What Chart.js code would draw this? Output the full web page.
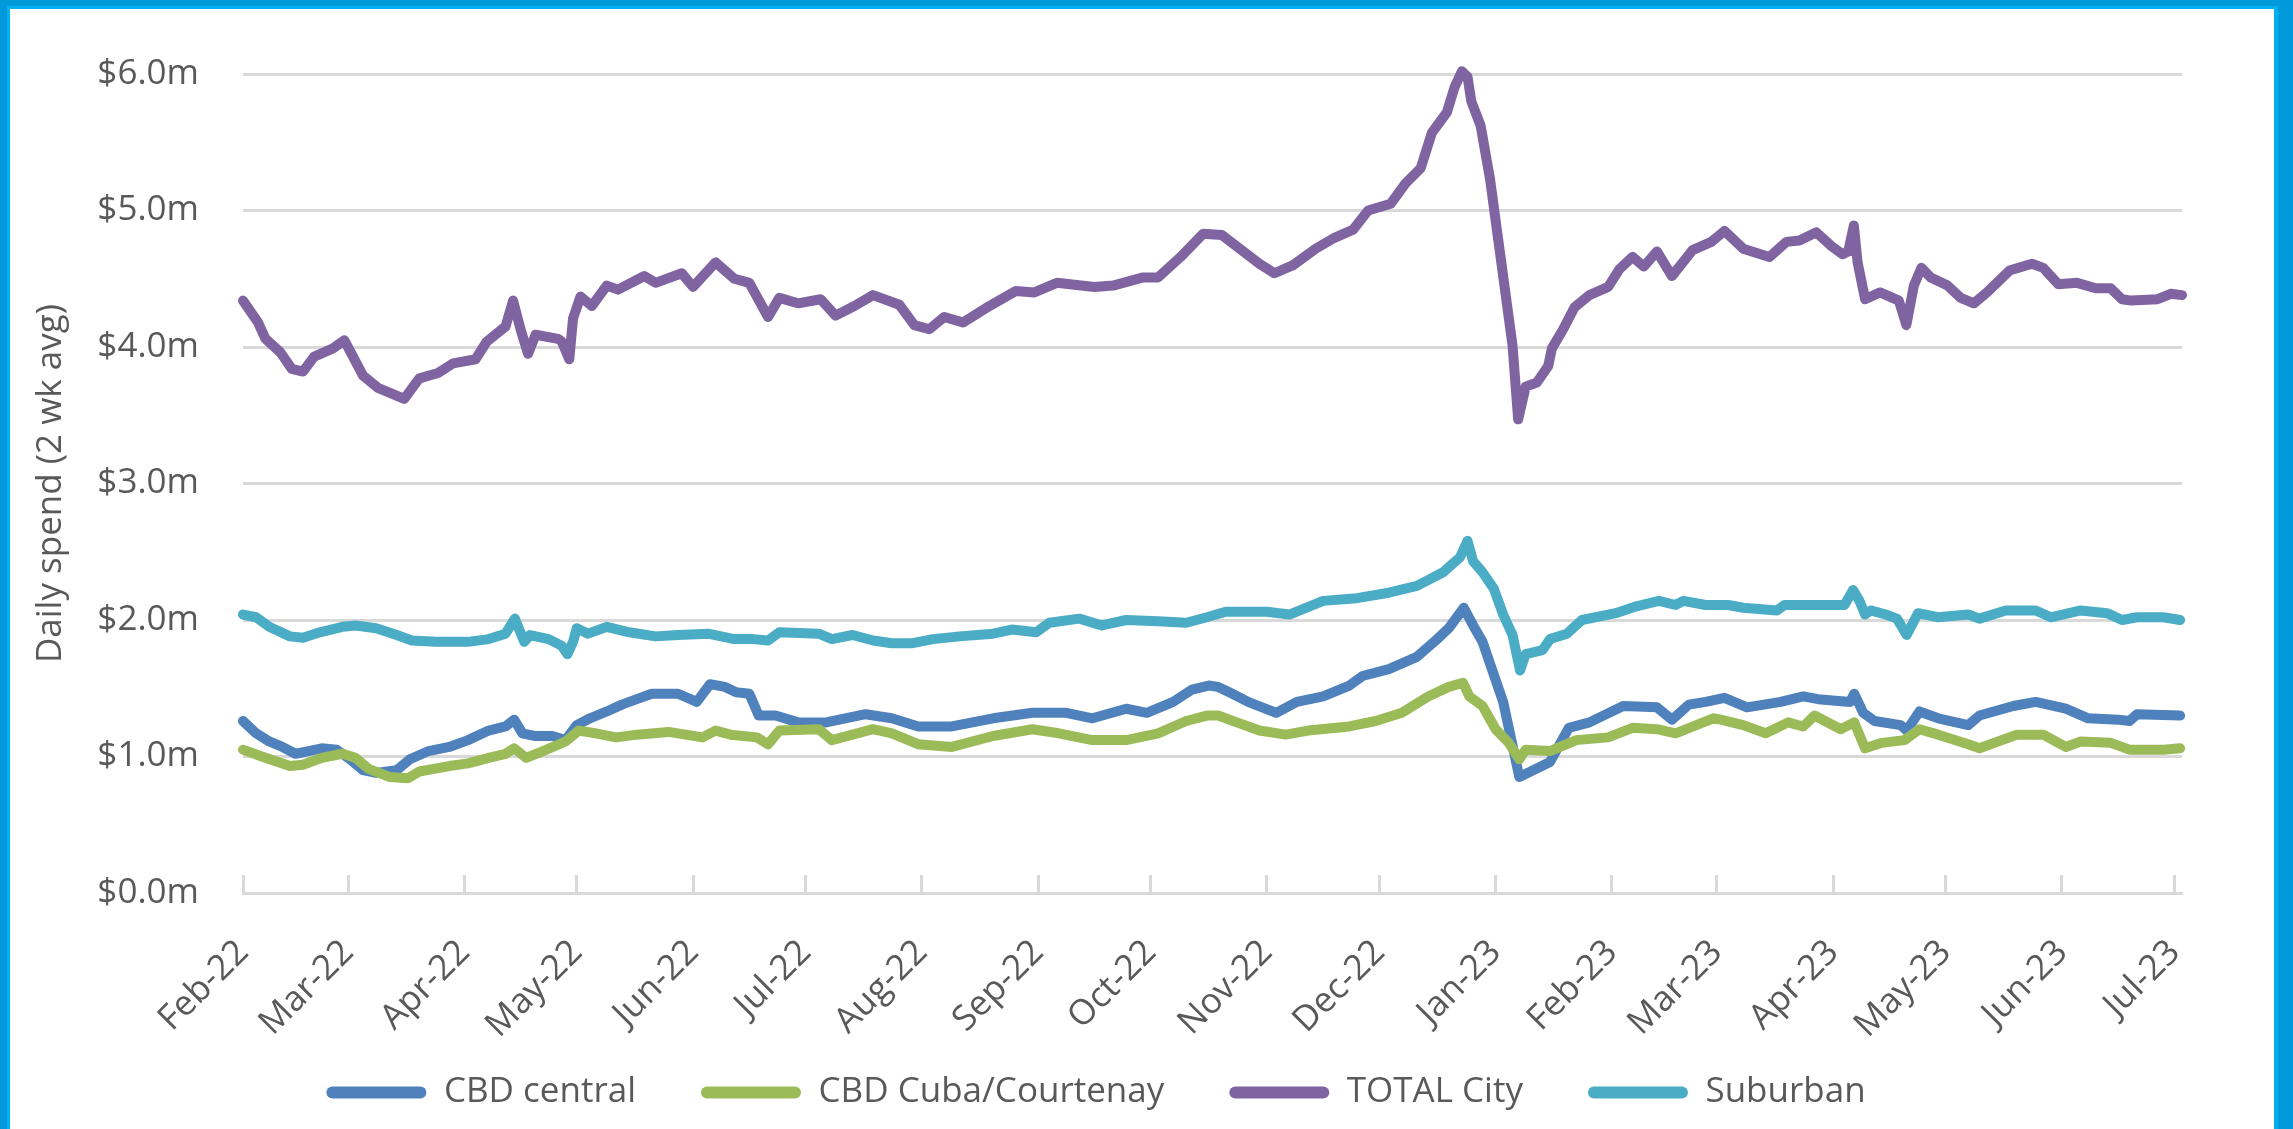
<!DOCTYPE html>
<html lang="en">
<head>
  <meta charset="UTF-8" />
  <title>Daily spend (2 wk avg)</title>
  <script src="https://cdn.jsdelivr.net/npm/chart.js"></script>
  <style>
    html, body {
      margin: 0;
      padding: 0;
      background: #ffffff;
      overflow: hidden;
    }

    .frame {
      position: absolute;
      left: 0;
      top: 0;
      width: 2293px;
      height: 1129px;
      box-sizing: border-box;
      border-style: solid;
      border-color: #0099da;
      border-width: 6px 15px 0 7px;
    }

    .frame-inner {
      width: 100%;
      height: 100%;
      box-sizing: border-box;
      border-style: solid;
      border-color: #00b0f0;
      border-width: 3px 4px 0 3px;
      background: #ffffff;
    }

    .chart-box {
      position: relative;
      width: 100%;
      height: 100%;
    }
  </style>
</head>
<body>
  <div class="frame">
    <div class="frame-inner">
      <div class="chart-box">
        <canvas id="spendChart"></canvas>
      </div>
    </div>
  </div>

  <script>
    // x values are days since 1 Feb 2022, y values are $m (2 week average)
    const seriesNames = ['CBD central', 'CBD Cuba/Courtenay', 'TOTAL City', 'Suburban'];
    const seriesColors = ['#4f81bd', '#9bbb59', '#8064a2', '#4bacc6'];

    const tickLabels = ['Feb-22', 'Mar-22', 'Apr-22', 'May-22', 'Jun-22', 'Jul-22', 'Aug-22', 'Sep-22',
      'Oct-22', 'Nov-22', 'Dec-22', 'Jan-23', 'Feb-23', 'Mar-23', 'Apr-23', 'May-23', 'Jun-23', 'Jul-23'];
    const tickDates = ['2022-02-01', '2022-03-01', '2022-04-01', '2022-05-01', '2022-06-01', '2022-07-01',
      '2022-08-01', '2022-09-01', '2022-10-01', '2022-11-01', '2022-12-01', '2023-01-01', '2023-02-01',
      '2023-03-01', '2023-04-01', '2023-05-01', '2023-06-01', '2023-07-01'];

    const centralDays = [0, 3.5, 7, 10.5, 14, 17.5, 21, 25, 28.5, 32, 35.5, 41, 44.5, 49.5, 55, 60, 65.5, 70,
      72.3, 74.5, 78, 82.5, 86, 89, 92.5, 97, 101, 105, 109, 116, 121, 124.5, 128.5, 131.5, 135, 137.5,
      142, 148, 155.5, 166, 173, 180, 189, 200, 210.5, 219.5, 226.5, 235.5, 241, 248, 253, 257.5, 260,
      263, 268, 275.5, 281, 288, 295, 298.5, 305.5, 313, 318, 321.5, 325.5, 328, 330.5, 336, 340.3, 344,
      348.5, 353.5, 359, 368, 377, 381, 385.5, 390, 395, 401, 410, 416, 420, 428.5, 429.6, 432, 435, 442,
      443.6, 447, 452, 460, 463, 472, 478, 486, 492, 500, 503, 505, 516.5];
    const centralVals = [1.26, 1.17, 1.11, 1.07, 1.02, 1.04, 1.06, 1.05, 0.98, 0.90, 0.88, 0.90, 0.98, 1.04,
      1.07, 1.12, 1.19, 1.22, 1.27, 1.17, 1.15, 1.15, 1.12, 1.23, 1.28, 1.33, 1.38, 1.42, 1.46, 1.46, 1.40,
      1.53, 1.51, 1.47, 1.46, 1.30, 1.30, 1.25, 1.25, 1.31, 1.28, 1.22, 1.22, 1.28, 1.32, 1.32, 1.28, 1.35,
      1.32, 1.40, 1.49, 1.52, 1.51, 1.47, 1.40, 1.32, 1.40, 1.44, 1.52, 1.59, 1.64, 1.73, 1.85, 1.94, 2.09,
      1.96, 1.84, 1.40, 0.85, 0.90, 0.96, 1.21, 1.25, 1.37, 1.36, 1.27, 1.38, 1.40, 1.43, 1.36, 1.40, 1.44,
      1.42, 1.40, 1.46, 1.32, 1.26, 1.23, 1.19, 1.33, 1.28, 1.23, 1.30, 1.37, 1.40, 1.35, 1.28, 1.27, 1.26,
      1.31, 1.30];

    const cubaDays = [0, 5, 12.5, 16, 21, 26.5, 30, 33.5, 39, 44, 47, 55, 60, 65.5, 70, 72.3, 75.5, 80, 86,
      89.5, 94, 99.5, 105, 113.5, 122.5, 126, 130, 137, 140, 143, 153.5, 157, 168, 173, 180, 189, 200,
      210.5, 217.5, 226.5, 235.5, 244, 251.5, 257, 260, 265, 271, 278, 284, 295, 302, 309, 316, 321.5,
      325.3, 327, 330.5, 334, 337.5, 340.3, 342, 348.5, 355.5, 364, 370.5, 377, 382, 387.5, 392, 394, 400,
      406, 412, 416, 419, 426, 429.6, 432.5, 437, 443, 447, 452, 460, 463, 473, 480, 486, 490, 498, 503,
      512, 516.5];
    const cubaVals = [1.05, 1.00, 0.93, 0.94, 0.99, 1.02, 0.99, 0.91, 0.85, 0.84, 0.89, 0.93, 0.95, 0.99,
      1.02, 1.06, 0.99, 1.04, 1.11, 1.19, 1.17, 1.14, 1.16, 1.18, 1.14, 1.19, 1.16, 1.14, 1.09, 1.19, 1.20,
      1.12, 1.20, 1.17, 1.09, 1.07, 1.15, 1.20, 1.17, 1.12, 1.12, 1.17, 1.26, 1.30, 1.30, 1.25, 1.19, 1.16,
      1.19, 1.22, 1.26, 1.32, 1.44, 1.51, 1.54, 1.44, 1.37, 1.20, 1.10, 0.98, 1.05, 1.04, 1.12, 1.14, 1.21,
      1.20, 1.17, 1.23, 1.28, 1.27, 1.23, 1.17, 1.25, 1.22, 1.30, 1.20, 1.25, 1.06, 1.10, 1.12, 1.20, 1.16,
      1.09, 1.06, 1.16, 1.16, 1.07, 1.11, 1.10, 1.05, 1.05, 1.06];

    const totalDays = [0, 4, 6, 10, 13, 16, 19, 24, 27, 32, 36, 43, 47, 52, 56, 62, 65, 70, 72, 74, 76, 78,
      84, 85, 87, 88, 90, 93, 97, 100, 107, 110, 117, 120, 126, 131, 135, 140, 143, 148, 154, 158, 163,
      168, 175, 179, 183, 187, 192, 199, 206, 211, 217, 227, 232, 240, 244, 250, 256, 261, 271, 275, 280,
      286, 291, 296, 300, 306, 310, 314, 317, 321, 323, 325, 326.5, 327.5, 330, 332.5, 335.5, 338.5, 340,
      342, 345, 348, 349, 352, 355, 359, 364, 367, 370.5, 373.5, 377, 381, 386.5, 391.5, 395, 400, 407,
      411.5, 415, 419.5, 423.5, 426.5, 428, 429.5, 430.5, 432.5, 436.5, 441.5, 443.5, 445.5, 447.5, 450,
      454.5, 458, 461.5, 465, 471, 477, 480, 484, 489, 494, 498, 501, 503.5, 510.5, 514, 517];
    const totalVals = [4.34, 4.18, 4.06, 3.96, 3.84, 3.82, 3.93, 3.99, 4.05, 3.79, 3.70, 3.62, 3.77, 3.81,
      3.88, 3.91, 4.04, 4.15, 4.34, 4.13, 3.95, 4.09, 4.06, 4.04, 3.91, 4.21, 4.37, 4.30, 4.45, 4.42, 4.52,
      4.47, 4.54, 4.44, 4.62, 4.50, 4.47, 4.22, 4.36, 4.32, 4.35, 4.23, 4.30, 4.38, 4.31, 4.16, 4.13, 4.22,
      4.18, 4.30, 4.41, 4.40, 4.47, 4.44, 4.45, 4.51, 4.51, 4.66, 4.83, 4.82, 4.61, 4.54, 4.60, 4.72, 4.80,
      4.86, 5.00, 5.05, 5.20, 5.31, 5.57, 5.72, 5.90, 6.02, 5.98, 5.80, 5.62, 5.23, 4.62, 4.01, 3.47, 3.71,
      3.74, 3.86, 3.99, 4.13, 4.29, 4.38, 4.44, 4.57, 4.66, 4.59, 4.70, 4.52, 4.71, 4.77, 4.85, 4.72, 4.66,
      4.77, 4.78, 4.84, 4.74, 4.68, 4.70, 4.89, 4.62, 4.35, 4.40, 4.34, 4.16, 4.45, 4.58, 4.51, 4.45, 4.36,
      4.32, 4.40, 4.56, 4.61, 4.58, 4.46, 4.47, 4.43, 4.43, 4.35, 4.34, 4.35, 4.39, 4.38];

    const suburbanDays = [0, 3.5, 7, 12.5, 16, 20.5, 26.5, 30, 35.5, 41, 45, 51.5, 60, 65.5, 70, 72.5, 73.5,
      75, 76.5, 81.5, 85, 86.5, 88, 89, 92, 97, 103, 110, 116, 124, 131, 136, 140, 143, 153.5, 157, 162.5,
      168, 173, 178.5, 184, 191, 200, 205, 211.5, 215, 223, 229, 235.5, 244, 251.5, 257, 262, 265, 273,
      279, 288, 297, 305.5, 313, 320, 324.5, 326.5, 328, 330.5, 333.5, 336, 338.5, 340.5, 342, 346.5,
      348.5, 353, 357, 366, 371.5, 377.5, 382, 384, 390, 396, 400, 409, 411, 420, 427, 429.3, 431, 432.5,
      434, 438, 441, 443.6, 446.6, 452, 460, 463, 470, 478, 482, 490, 497, 501, 505, 512, 516.5];
    const suburbanVals = [2.04, 2.02, 1.95, 1.88, 1.87, 1.91, 1.95, 1.96, 1.94, 1.89, 1.85, 1.84, 1.84, 1.86,
      1.90, 2.01, 1.94, 1.84, 1.89, 1.86, 1.81, 1.75, 1.84, 1.94, 1.90, 1.95, 1.91, 1.88, 1.89, 1.90, 1.86,
      1.86, 1.85, 1.91, 1.90, 1.86, 1.89, 1.85, 1.83, 1.83, 1.86, 1.88, 1.90, 1.93, 1.91, 1.98, 2.01, 1.96,
      2.00, 1.99, 1.98, 2.02, 2.06, 2.06, 2.06, 2.04, 2.14, 2.16, 2.20, 2.25, 2.35, 2.46, 2.58, 2.43, 2.35,
      2.23, 2.04, 1.89, 1.63, 1.75, 1.78, 1.86, 1.90, 2.00, 2.05, 2.10, 2.14, 2.11, 2.14, 2.11, 2.11, 2.09,
      2.07, 2.11, 2.11, 2.11, 2.22, 2.14, 2.04, 2.07, 2.04, 2.01, 1.89, 2.05, 2.02, 2.04, 2.01, 2.07, 2.07,
      2.02, 2.07, 2.05, 2.00, 2.02, 2.02, 2.00];

    const dayMs = 24 * 3600 * 1000;
    const startMs = Date.UTC(2022, 1, 1);
    const tickDays = tickDates.map(s => {
      const p = s.split('-').map(Number);
      return Math.round((Date.UTC(p[0], p[1] - 1, p[2]) - startMs) / dayMs);
    });

    function points(days, vals) {
      return days.map((d, i) => ({ x: d, y: vals[i] }));
    }

    const allDays = [centralDays, cubaDays, totalDays, suburbanDays];
    const allVals = [centralVals, cubaVals, totalVals, suburbanVals];

    const textColor = '#595959';
    const gridColor = '#d9d9d9';
    const fontFamily = "'Open Sans', 'Noto Sans', sans-serif";

    const datasets = seriesNames.map((name, i) => ({
      label: name,
      data: points(allDays[i], allVals[i]),
      borderColor: seriesColors[i],
      backgroundColor: seriesColors[i],
      borderWidth: 10,
      pointRadius: 0,
      pointHoverRadius: 0,
      tension: 0,
      borderJoinStyle: 'round',
      borderCapStyle: 'round',
      clip: 10,
      // later series drawn on top, like the original
      order: seriesNames.length - i
    }));

    // the x scale box is kept short so the legend sits close; let its rotated labels draw below it
    const unclipXLabels = {
      id: 'unclipXLabels',
      afterLayout(chart) {
        chart.scales.x.bottom = chart.height;
      }
    };

    new Chart(document.getElementById('spendChart'), {
      type: 'line',
      data: { datasets },
      plugins: [unclipXLabels],
      options: {
        responsive: true,
        maintainAspectRatio: false,
        animation: false,
        layout: {
          padding: { left: 0, right: 92, top: 65, bottom: 9 }
        },
        plugins: {
          tooltip: { enabled: false },
          legend: {
            position: 'bottom',
            labels: {
              color: textColor,
              font: { family: fontFamily, size: 35 },
              boxWidth: 100,
              boxHeight: 12,
              padding: 65,
              useBorderRadius: true,
              borderRadius: 6,
              sort: (a, b) => a.datasetIndex - b.datasetIndex,
              generateLabels(chart) {
                const items = Chart.defaults.plugins.legend.labels.generateLabels(chart);
                items.forEach(it => { it.lineWidth = 0; });
                return items;
              }
            }
          }
        },
        scales: {
          x: {
            type: 'linear',
            min: 0,
            max: 517,
            afterBuildTicks(scale) {
              scale.ticks = tickDays.map(v => ({ value: v }));
            },
            afterFit(scale) {
              scale.height = 117;
            },
            ticks: {
              autoSkip: false,
              maxRotation: 45,
              minRotation: 45,
              padding: 57,
              color: textColor,
              font: { family: fontFamily, size: 35 },
              callback: (value) => {
                const k = tickDays.indexOf(value);
                return k >= 0 ? tickLabels[k] : '';
              }
            },
            grid: {
              drawOnChartArea: false,
              drawTicks: true,
              tickLength: -18,
              tickColor: gridColor,
              tickWidth: 3
            },
            border: { display: true, color: gridColor, width: 3 }
          },
          y: {
            min: 0,
            max: 6,
            afterFit(scale) {
              scale.width = 233;
            },
            ticks: {
              stepSize: 1,
              padding: 44,
              color: textColor,
              font: { family: fontFamily, size: 35 },
              callback: (v) => '$' + Number(v).toFixed(1) + 'm'
            },
            grid: {
              color: gridColor,
              lineWidth: 3,
              drawTicks: false
            },
            border: { display: false },
            title: {
              display: true,
              text: 'Daily spend (2 wk avg)',
              color: textColor,
              font: { family: fontFamily, size: 35 },
              padding: { top: 20, bottom: 0 }
            }
          }
        }
      }
    });
  </script>
</body>
</html>
